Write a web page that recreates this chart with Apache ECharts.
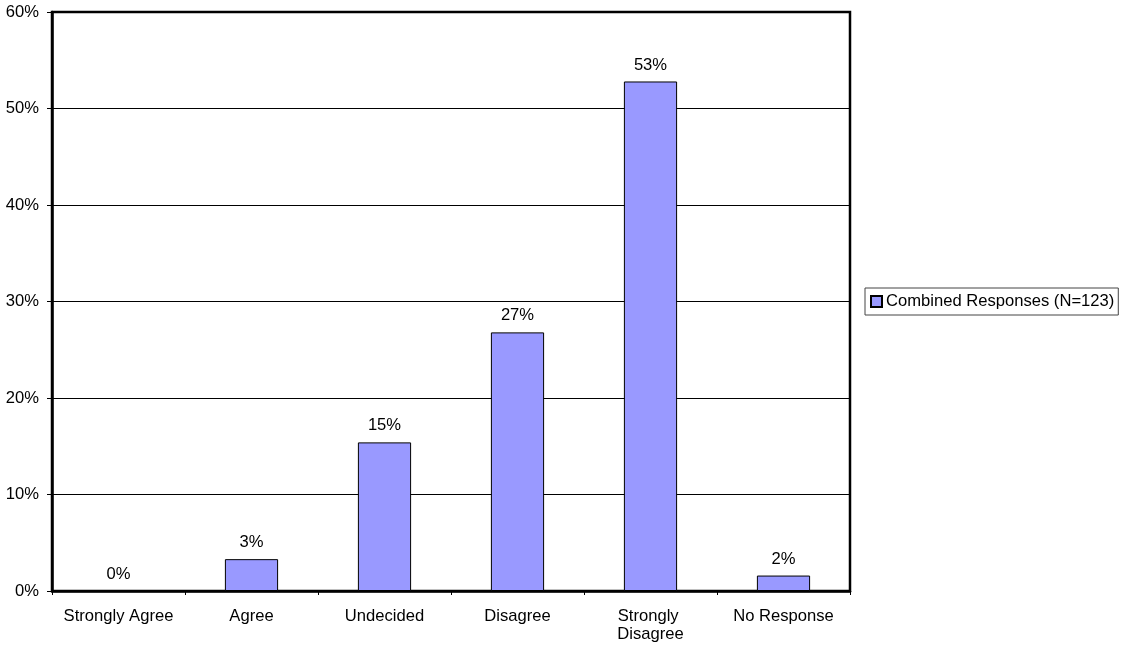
<!DOCTYPE html>
<html>
<head>
<meta charset="utf-8">
<script src="https://cdn.jsdelivr.net/npm/echarts@6/dist/echarts.min.js"></script>
<style>
  html, body { margin: 0; padding: 0; background: #fff; }
  #chart { width: 1122px; height: 646px; }
</style>
</head>
<body>
<div id="chart"></div>
<script>
// Response categories along the x axis
const categories = ['Strongly Agree', 'Agree', 'Undecided', 'Disagree', 'Strongly Disagree', 'No Response'];
// Share of responses per category, in percent (N=123)
const combinedResponses = [0, 3.3, 15.4, 26.8, 52.8, 1.6];
const seriesName = 'Combined Responses (N=123)';
// Y axis range and step, in percent
const yMin = 0;
const yMax = 60;
const yStep = 10;

const font = 'Arial, "Liberation Sans", sans-serif';
const fontSize = 16.6;

const chart = echarts.init(document.getElementById('chart'));
chart.setOption({
  animation: false,
  textStyle: { fontFamily: font },
  grid: {
    left: 52, right: 272, top: 12, bottom: 55,
    show: true, borderColor: '#000', borderWidth: 2.5, backgroundColor: 'transparent'
  },
  legend: {
    orient: 'vertical',
    left: 865, top: 288,
    padding: [4, 4, 4, 5],
    borderColor: '#444', borderWidth: 1,
    itemWidth: 11, itemHeight: 11, icon: 'rect',
    textStyle: { fontFamily: font, fontSize: fontSize, color: '#000', padding: [0, 0, 0, -1], lineHeight: 19 },
    data: [seriesName]
  },
  xAxis: {
    type: 'category',
    data: categories,
    axisLine: { lineStyle: { color: '#000', width: 2.5 } },
    axisTick: { show: true, length: 4, lineStyle: { color: '#000', width: 1 } },
    axisLabel: {
      interval: 0,
      color: '#000', fontFamily: font, fontSize: fontSize, margin: 16,
      width: 115, overflow: 'break', lineHeight: 18
    }
  },
  yAxis: {
    type: 'value',
    min: yMin, max: yMax, interval: yStep,
    axisLine: { show: true, lineStyle: { color: '#000', width: 2.5 } },
    axisTick: { show: true, length: 5, lineStyle: { color: '#000', width: 1 } },
    axisLabel: { color: '#000', fontFamily: font, fontSize: fontSize, margin: 13, formatter: v => v + '%' },
    splitLine: { show: true, lineStyle: { color: '#000', width: 1 } }
  },
  series: [{
    name: seriesName,
    type: 'bar',
    data: combinedResponses,
    barWidth: '40%',
    itemStyle: { color: '#9999FF', borderColor: '#000', borderWidth: 1 },
    label: {
      show: true, position: 'top', distance: 8,
      color: '#000', fontFamily: font, fontSize: fontSize,
      formatter: p => Math.round(p.value) + '%'
    }
  }]
});
</script>
</body>
</html>
